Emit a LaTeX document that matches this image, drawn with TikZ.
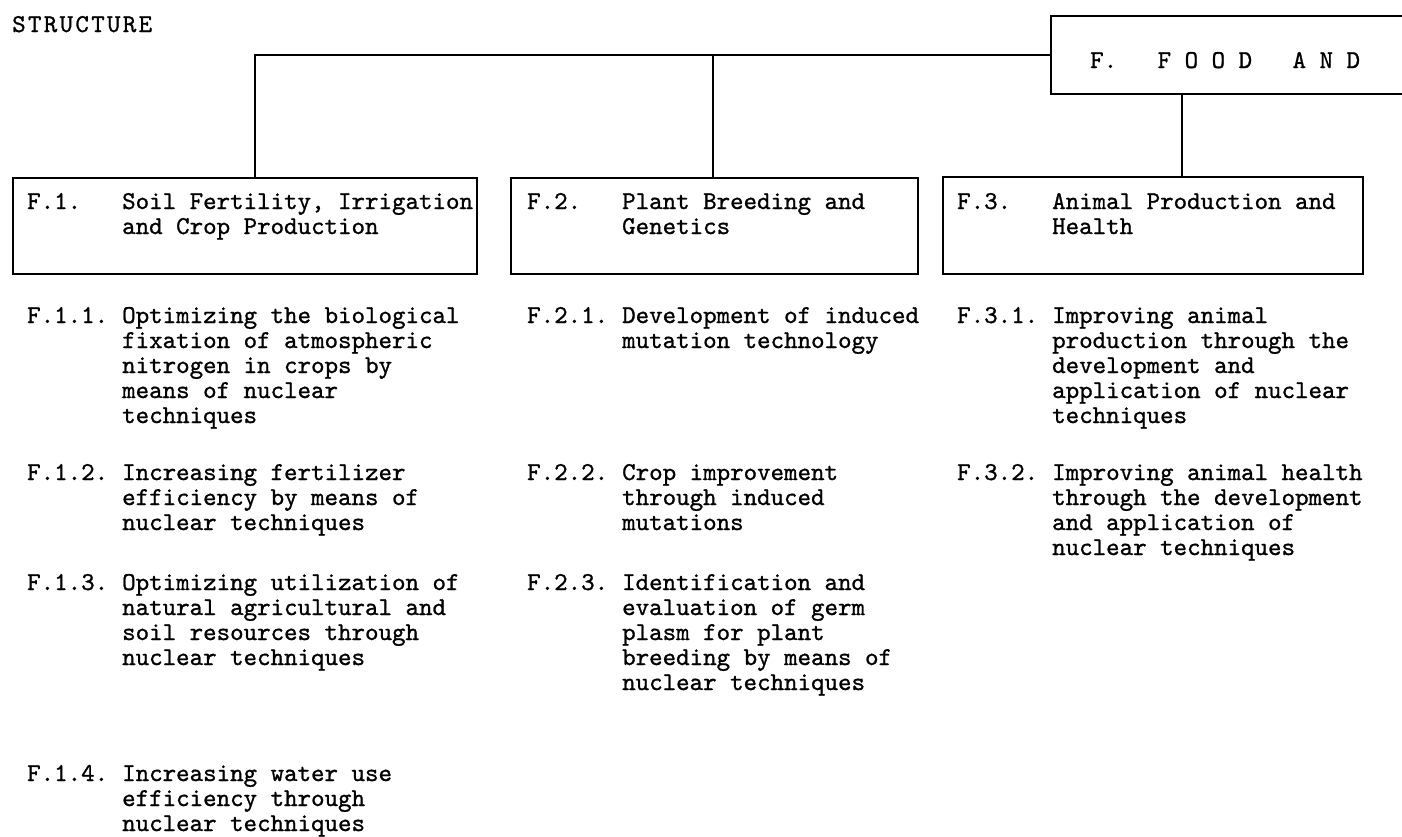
\documentclass[tikz,border=0pt]{standalone}
\usepackage{fontspec}
\setmonofont{lmmono10-regular.otf}[FakeBold=1]
% stacked lines whose baseline is that of the first line
\newcommand{\itemlines}[1]{\begin{tabular}[t]{@{}l@{}}#1\end{tabular}}
\begin{document}
\begin{tikzpicture}[x=1pt,y=-1pt,
  every node/.style={font=\ttfamily\fontsize{25.7}{25}\selectfont, inner sep=0pt},
  box/.style={draw, line width=1.5pt, anchor=north west},
  lab/.style={anchor=base west},
  link/.style={line width=1.5pt}]
\useasboundingbox (0,0) rectangle (1402,836);
\clip (0,0) rectangle (1402,836);

% heading
\node[lab, font=\ttfamily\fontsize{25.7}{25}\selectfont\addfontfeature{LetterSpace=9}] (head) at (12,32) {STRUCTURE};

% top box (runs off the right edge)
\node[box, minimum width=500pt, minimum height=78pt] (F) at (1050,15) {};
\node[lab] (Ft) at (1090,68) {F.\ \ \ F\ O\ O\ D\ \ \ A\ N\ D};

% second-level boxes
\node[box, minimum width=464pt, minimum height=96pt] (b1) at (12,177) {};
\node[box, minimum width=407pt, minimum height=96pt] (b2) at (510,177) {};
\node[box, minimum width=420pt, minimum height=97pt] (b3) at (942,176) {};

\node[lab] (b1l) at (27,209) {F.1.};
\node[lab] (b1t) at (122,209) {\itemlines{Soil Fertility, Irrigation\\and Crop Production}};
\node[lab] (b2l) at (527,209) {F.2.};
\node[lab] (b2t) at (622,209) {\itemlines{Plant Breeding and\\Genetics}};
\node[lab] (b3l) at (957,209) {F.3.};
\node[lab] (b3t) at (1052,209) {\itemlines{Animal Production and\\Health}};

% connectors
\coordinate (j1) at (255,0);
\coordinate (j2) at (713,0);
\coordinate (j3) at (1182,0);
\draw[link] (F.west) -| (b1.north -| j1);
\draw[link] (b2.north -| j2) -- (j2 |- F.west);
\draw[link] (F.south -| j3) -- (b3.north -| j3);

% items under F.1
\node[lab] (i11l) at (27,323) {F.1.1.};
\node[lab] (i11) at (122,323) {\itemlines{Optimizing the biological\\fixation of atmospheric\\nitrogen in crops by\\means of nuclear\\techniques}};
\node[lab] (i12l) at (27,480) {F.1.2.};
\node[lab] (i12) at (122,480) {\itemlines{Increasing fertilizer\\efficiency by means of\\nuclear techniques}};
\node[lab] (i13l) at (27,590) {F.1.3.};
\node[lab] (i13) at (122,590) {\itemlines{Optimizing utilization of\\natural agricultural and\\soil resources through\\nuclear techniques}};
\node[lab] (i14l) at (27,781) {F.1.4.};
\node[lab] (i14) at (122,781) {\itemlines{Increasing water use\\efficiency through\\nuclear techniques}};

% items under F.2
\node[lab] (i21l) at (527,323) {F.2.1.};
\node[lab] (i21) at (622,323) {\itemlines{Development of induced\\mutation technology}};
\node[lab] (i22l) at (527,480) {F.2.2.};
\node[lab] (i22) at (622,480) {\itemlines{Crop improvement\\through induced\\mutations}};
\node[lab] (i23l) at (527,590) {F.2.3.};
\node[lab] (i23) at (622,590) {\itemlines{Identification and\\evaluation of germ\\plasm for plant\\breeding by means of\\nuclear techniques}};

% items under F.3
\node[lab] (i31l) at (957,323) {F.3.1.};
\node[lab] (i31) at (1052,323) {\itemlines{Improving animal\\production through the\\development and\\application of nuclear\\techniques}};
\node[lab] (i32l) at (957,480) {F.3.2.};
\node[lab] (i32) at (1052,480) {\itemlines{Improving animal health\\through the development\\and application of\\nuclear techniques}};
\end{tikzpicture}
\end{document}
